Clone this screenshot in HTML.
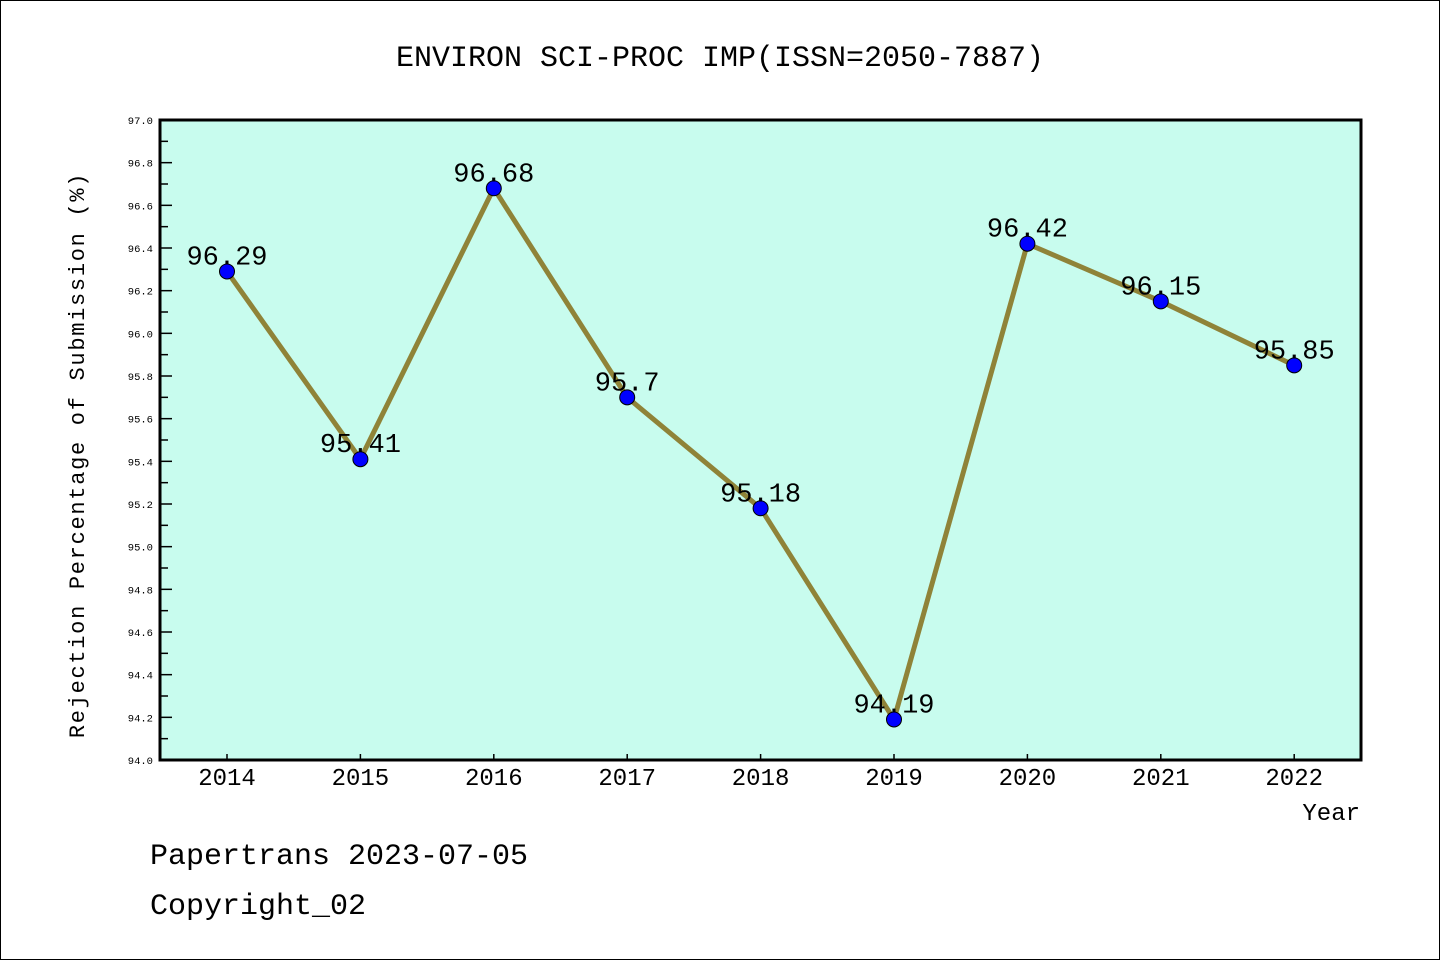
<!DOCTYPE html>
<html><head><meta charset="utf-8"><style>
html,body{margin:0;padding:0;background:#fff;}
svg{display:block;font-family:"Liberation Mono","WenQuanYi Zen Hei",monospace;}
</style></head><body>
<svg id="chart" width="1440" height="960" xmlns="http://www.w3.org/2000/svg">
<rect x="0.5" y="0.5" width="1439" height="959" fill="#fff" stroke="#000"/>
<text x="720" y="66" font-size="30" text-anchor="middle">ENVIRON SCI-PROC IMP(ISSN=2050-7887)</text>
<rect x="160" y="120" width="1201" height="640" fill="#c8fcee"/>
<g id="yticks"></g><g id="xticks"></g>
<rect x="160" y="120" width="1201" height="640" fill="none" stroke="#000" stroke-width="3"/>
<g id="series"></g>
<text transform="translate(84,455) rotate(-90)" font-size="22" text-anchor="middle" letter-spacing="1.7">Rejection Percentage of Submission (%)</text>
<text x="1360" y="820" font-size="24" text-anchor="end">Year</text>
<text x="150" y="864" font-size="30">Papertrans 2023-07-05</text>
<text x="150" y="914" font-size="30">Copyright_02</text>
</svg>
<script>
const years = [2014,2015,2016,2017,2018,2019,2020,2021,2022];
const rates = [96.29,95.41,96.68,95.7,95.18,94.19,96.42,96.15,95.85];
const yTicks = [94.0,94.2,94.4,94.6,94.8,95.0,95.2,95.4,95.6,95.8,96.0,96.2,96.4,96.6,96.8,97.0];
const yMin = 94.0, yMax = 97.0;
const NS = "http://www.w3.org/2000/svg";
function yScale(v){ return 760 - (v - yMin) / (yMax - yMin) * 640; }
function xScale(i){ return 227 + i * 133.4; }
function mk(tag, attrs, parent){ const e = document.createElementNS(NS, tag); for (const k in attrs) e.setAttribute(k, attrs[k]); parent.appendChild(e); return e; }
const yg = document.getElementById('yticks');
yTicks.forEach(v => {
  const y = yScale(v);
  const t = mk('line', {x1:160, x2:172, y1:y, y2:y, stroke:'#000', 'stroke-width':1.5}, yg);
  
  
  const l = mk('text', {x:153, y:y+4, 'font-size':10.5, 'text-anchor':'end'}, yg);
  l.textContent = v.toFixed(1);
  
  
  if (v < yMax) {
    const ym = yScale(v + 0.1);
    const m = mk('line', {x1:160, x2:168, y1:ym, y2:ym, stroke:'#000', 'stroke-width':1.5}, yg);
    
    
  }
});
const xg = document.getElementById('xticks');
years.forEach((yr, i) => {
  const x = xScale(i);
  const t = mk('line', {x1:x, x2:x, y1:760, y2:754, stroke:'#000', 'stroke-width':1.5}, xg);
  
  
  const l = mk('text', {x:x, y:785, 'font-size':24, 'text-anchor':'middle'}, xg);
  l.textContent = yr;
  
  
});
const sg = document.getElementById('series');
const pl = mk('polyline', {points: rates.map((v,i)=>xScale(i)+','+yScale(v)).join(' '), fill:'none', stroke:'#8f8338', 'stroke-width':5, 'stroke-linejoin':'round'}, sg);


rates.forEach((v, i) => {
  const c = mk('circle', {cx:xScale(i), cy:yScale(v), r:7.5, fill:'#0000ff', stroke:'#000', 'stroke-width':1}, sg);
  
  
  const l = mk('text', {x:xScale(i), y:yScale(v)-7, 'font-size':27, 'text-anchor':'middle'}, sg);
  l.textContent = String(v);
  
  
});
</script>
</body></html>
